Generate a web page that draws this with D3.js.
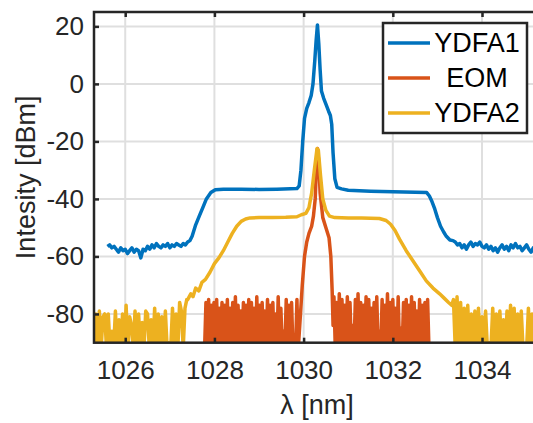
<!DOCTYPE html>
<html>
<head>
<meta charset="utf-8">
<script src="https://cdn.jsdelivr.net/npm/d3@7"></script>
<style>
  body { margin: 0; background: #fff; }
  svg { display: block; font-family: "Liberation Sans", Arial, sans-serif; }
</style>
</head>
<body>
<div id="vis"></div>
<script>
// spectra (wavelength in nm, power in dBm)
const xTicks = [1026, 1028, 1030, 1032, 1034];
const yTicks = [-80, -60, -40, -20, 0, 20];
const seriesNames = ['YDFA1', 'EOM', 'YDFA2'];

// YDFA1
const ydfa1LeftStart = 1025.60, ydfa1LeftStep = 0.05;
const ydfa1NoiseLeft = [-56.5,-56,-57,-56.5,-57.5,-58.5,-57,-58,-57.5,-59,-58,-57,-58.5,-57.5,-58,-60.5,-57.5,-58,-56.5,-57.5,-56,-57,-55.5,-56.5,-57,-56,-56.5,-55.5,-57,-56,-56.5,-55.5,-56,-56.5,-55.5,-56,-55,-54.5];
const ydfa1Lambda = [1027.50,1027.58,1027.66,1027.74,1027.82,1027.92,1028.02,1028.20,1028.60,1029.00,1029.40,1029.70,1029.85,1029.90,1029.94,1029.98,1030.02,1030.07,1030.12,1030.17,1030.21,1030.25,1030.28,1030.31,1030.34,1030.37,1030.40,1030.45,1030.50,1030.56,1030.60,1030.63,1030.66,1030.70,1030.75,1030.85,1031.00,1031.50,1032.00,1032.50,1032.76,1032.82,1032.88,1032.94,1033.00,1033.07,1033.14,1033.20,1033.28];
const ydfa1Power = [-53,-49,-46,-43,-40,-37.8,-36.8,-36.6,-36.6,-36.7,-36.6,-36.5,-36.4,-35.5,-30,-20,-12,-8.5,-6.5,-4,0,8,15,20.5,14,5,-2.5,-5,-7,-9.5,-11,-14,-24,-33,-36,-36.5,-37,-37.3,-37.5,-37.7,-37.8,-39,-41,-43.5,-46.5,-49.5,-51.5,-53,-54.3];
const ydfa1RightStart = 1033.35, ydfa1RightStep = 0.05;
const ydfa1NoiseRight = [-54.5,-55,-56,-55.5,-57,-56,-57.5,-56,-55,-56.5,-55.5,-56,-55,-56.5,-57,-56,-57.5,-56.5,-58,-57,-58.5,-57,-56,-57.5,-56.5,-58,-56,-57,-55.5,-57,-56.5,-58,-57,-56,-57.5,-58.5,-57,-59,-58,-60];

// EOM
const eomLeftStart = 1027.78, eomLeftStep = 0.03;
const eomNoiseLeft = [-92,-76,-92,-75,-92,-77,-92,-76,-92,-75,-92,-78,-92,-76,-92,-77,-92,-75,-92,-78,-92,-76,-92,-74,-92,-77,-92,-79,-92,-76,-92,-77,-92,-75,-92,-76,-92,-78,-92,-74,-92,-77,-92,-76,-92,-79,-92,-75,-92,-77,-92,-76,-92,-80,-92,-74,-92,-78,-92,-86,-92,-75,-92,-77,-92,-76,-92,-88,-92,-75,-92];
const eomLambda = [1029.93,1029.97,1030.02,1030.07,1030.12,1030.18,1030.22,1030.26,1030.29,1030.31,1030.34,1030.37,1030.43,1030.50,1030.57,1030.61,1030.64,1030.66];
const eomPower = [-80,-70,-60,-55,-52,-49.5,-46,-40,-28,-22.5,-27,-38,-46.5,-50,-53.5,-60,-72,-84];
const eomRightStart = 1030.68, eomRightStep = 0.03;
const eomNoiseRight = [-74,-92,-76,-92,-73,-92,-75,-92,-77,-92,-74,-92,-76,-92,-84,-92,-75,-92,-73,-92,-76,-92,-77,-92,-74,-92,-75,-92,-78,-92,-76,-92,-74,-92,-86,-92,-75,-92,-77,-92,-73,-92,-76,-92,-75,-92,-78,-92,-74,-92,-85,-92,-76,-92,-75,-92,-77,-92,-74,-92,-76,-92,-79,-92,-75,-92,-77,-92,-76,-92,-75,-92];

// YDFA2
const ydfa2LeftStart = 1025.30, ydfa2LeftStep = 0.04;
const ydfa2NoiseLeft = [-92,-80,-92,-79,-92,-81,-80,-92,-80,-92,-86,-92,-79,-92,-82,-92,-80,-92,-77,-92,-81,-84,-92,-79,-92,-80,-92,-83,-92,-79,-80,-92,-82,-92,-78,-92,-80,-92,-81,-92,-79,-92,-90,-92,-78,-92,-80,-92,-76,-79,-92,-78,-75];
const ydfa2Lambda = [1027.40,1027.47,1027.52,1027.58,1027.65,1027.72,1027.80,1027.90,1028.00,1028.10,1028.20,1028.30,1028.40,1028.50,1028.60,1028.70,1028.80,1029.00,1029.30,1029.60,1029.85,1029.95,1030.05,1030.12,1030.18,1030.24,1030.30,1030.33,1030.38,1030.43,1030.50,1030.58,1030.70,1031.00,1031.30,1031.70,1031.85,1031.95,1032.05,1032.15,1032.30,1032.45,1032.60,1032.75,1032.90,1033.05,1033.15,1033.25,1033.32];
const ydfa2Power = [-75,-73,-74,-71,-72,-69,-68,-65.5,-62.5,-60.5,-58,-55,-52,-49.5,-47.8,-47,-46.6,-46.5,-46.5,-46.4,-46.2,-45.5,-45,-43,-38,-30,-22.5,-23,-32,-40,-44,-46,-46.5,-46.6,-46.6,-46.8,-47.5,-48.8,-51,-54,-58,-61.5,-65,-68.5,-71,-73,-74.5,-76,-77];
const ydfa2RightStart = 1033.36, ydfa2RightStep = 0.04;
const ydfa2NoiseRight = [-75,-92,-74,-92,-76,-92,-78,-92,-77,-92,-80,-92,-79,-92,-78,-92,-81,-92,-79,-92,-90,-92,-78,-92,-80,-92,-79,-92,-82,-92,-79,-92,-77,-92,-78,-92,-80,-92,-79,-92,-91,-92,-78,-92,-80,-92,-79,-92,-81];

let margin = { top: 12, left: 94, right: -7, bottom: 80.3 },
  width = 533 - margin.left - margin.right,
  height = 423 - margin.top - margin.bottom;

function buildSeries(leftStart, leftStep, noiseLeft, lambda, power, rightStart, rightStep, noiseRight) {
  let pts = [];
  noiseLeft.forEach((v, i) => pts.push([leftStart + i * leftStep, v]));
  lambda.forEach((l, i) => pts.push([l, power[i]]));
  noiseRight.forEach((v, i) => pts.push([rightStart + i * rightStep, v]));
  return pts;
}

let series = [
  buildSeries(ydfa1LeftStart, ydfa1LeftStep, ydfa1NoiseLeft, ydfa1Lambda, ydfa1Power, ydfa1RightStart, ydfa1RightStep, ydfa1NoiseRight),
  buildSeries(eomLeftStart, eomLeftStep, eomNoiseLeft, eomLambda, eomPower, eomRightStart, eomRightStep, eomNoiseRight),
  buildSeries(ydfa2LeftStart, ydfa2LeftStep, ydfa2NoiseLeft, ydfa2Lambda, ydfa2Power, ydfa2RightStart, ydfa2RightStep, ydfa2NoiseRight)
];
let colors = ['#0072BD', '#D95319', '#EDB120'];

let svg = d3.select('#vis')
  .append('svg')
  .attr('width', 533)
  .attr('height', 423)
  .style('background-color', 'white');

let g = svg.append('g').attr('transform', `translate(${margin.left},${margin.top})`);

let x = d3.scaleLinear().domain([1025.3, 1035.3]).range([0, width]);
let y = d3.scaleLinear().domain([-90, 25]).range([height, 0]);

// grid
g.append('g')
  .selectAll('line.vgrid')
  .data(xTicks)
  .join('line')
  .attr('x1', d => x(d)).attr('x2', d => x(d))
  .attr('y1', 0).attr('y2', height)
  .attr('stroke', '#dfdfdf').attr('stroke-width', 2);
g.append('g')
  .selectAll('line.hgrid')
  .data(yTicks)
  .join('line')
  .attr('x1', 0).attr('x2', width)
  .attr('y1', d => y(d)).attr('y2', d => y(d))
  .attr('stroke', '#dfdfdf').attr('stroke-width', 2);

svg.append('clipPath').attr('id', 'plotclip')
  .append('rect').attr('width', width).attr('height', height);

let line = d3.line().x(d => x(d[0])).y(d => y(d[1]));

g.append('g').attr('clip-path', 'url(#plotclip)')
  .selectAll('path')
  .data(series)
  .join('path')
  .attr('d', line)
  .attr('fill', 'none')
  .attr('stroke', (d, i) => colors[i])
  .attr('stroke-width', 3.5)
  .attr('stroke-linejoin', 'round');

// axes (ticks inward, box on)
let axisColor = '#262626';
let xAxisBottom = g.append('g').attr('transform', `translate(0,${height})`)
  .call(d3.axisBottom(x).tickValues(xTicks).tickFormat(d => String(d)).tickSize(-5).tickSizeOuter(0).tickPadding(18));
let yAxisLeft = g.append('g')
  .call(d3.axisLeft(y).tickValues(yTicks).tickFormat(d => String(d)).tickSize(-5).tickSizeOuter(0).tickPadding(10));
let xAxisTop = g.append('g')
  .call(d3.axisTop(x).tickValues(xTicks).tickFormat('').tickSize(-5).tickSizeOuter(0));

[xAxisBottom, yAxisLeft, xAxisTop].forEach(a => {
  a.select('.domain').remove();
  a.selectAll('line').attr('stroke', axisColor).attr('stroke-width', 2.5);
  a.selectAll('text').attr('fill', axisColor).style('font-size', '26px').attr('font-family', null);
});

g.append('rect')
  .attr('width', width).attr('height', height)
  .attr('fill', 'none').attr('stroke', axisColor).attr('stroke-width', 2.5);

// labels
svg.append('text')
  .attr('x', margin.left + width / 2)
  .attr('y', 414)
  .attr('text-anchor', 'middle')
  .attr('fill', axisColor)
  .style('font-size', '27px')
  .text('λ [nm]');

svg.append('text')
  .attr('transform', `translate(35,${margin.top + height / 2}) rotate(-90)`)
  .attr('text-anchor', 'middle')
  .attr('fill', axisColor)
  .style('font-size', '27px')
  .text('Intesity [dBm]');

// legend
let legend = svg.append('g');
legend.append('rect')
  .attr('x', 383).attr('y', 23).attr('width', 144).attr('height', 110)
  .attr('fill', 'white').attr('stroke', axisColor).attr('stroke-width', 2.5);
let rows = legend.selectAll('g.row')
  .data(seriesNames)
  .join('g')
  .attr('transform', (d, i) => `translate(0,${43 + i * 35})`);
rows.append('line')
  .attr('x1', 388).attr('x2', 430)
  .attr('stroke', (d, i) => colors[i]).attr('stroke-width', 3.5);
rows.append('text')
  .attr('x', 477).attr('dy', '0.35em')
  .attr('text-anchor', 'middle')
  .attr('fill', '#000')
  .style('font-size', '27px')
  .text(d => d);
</script>
</body>
</html>
